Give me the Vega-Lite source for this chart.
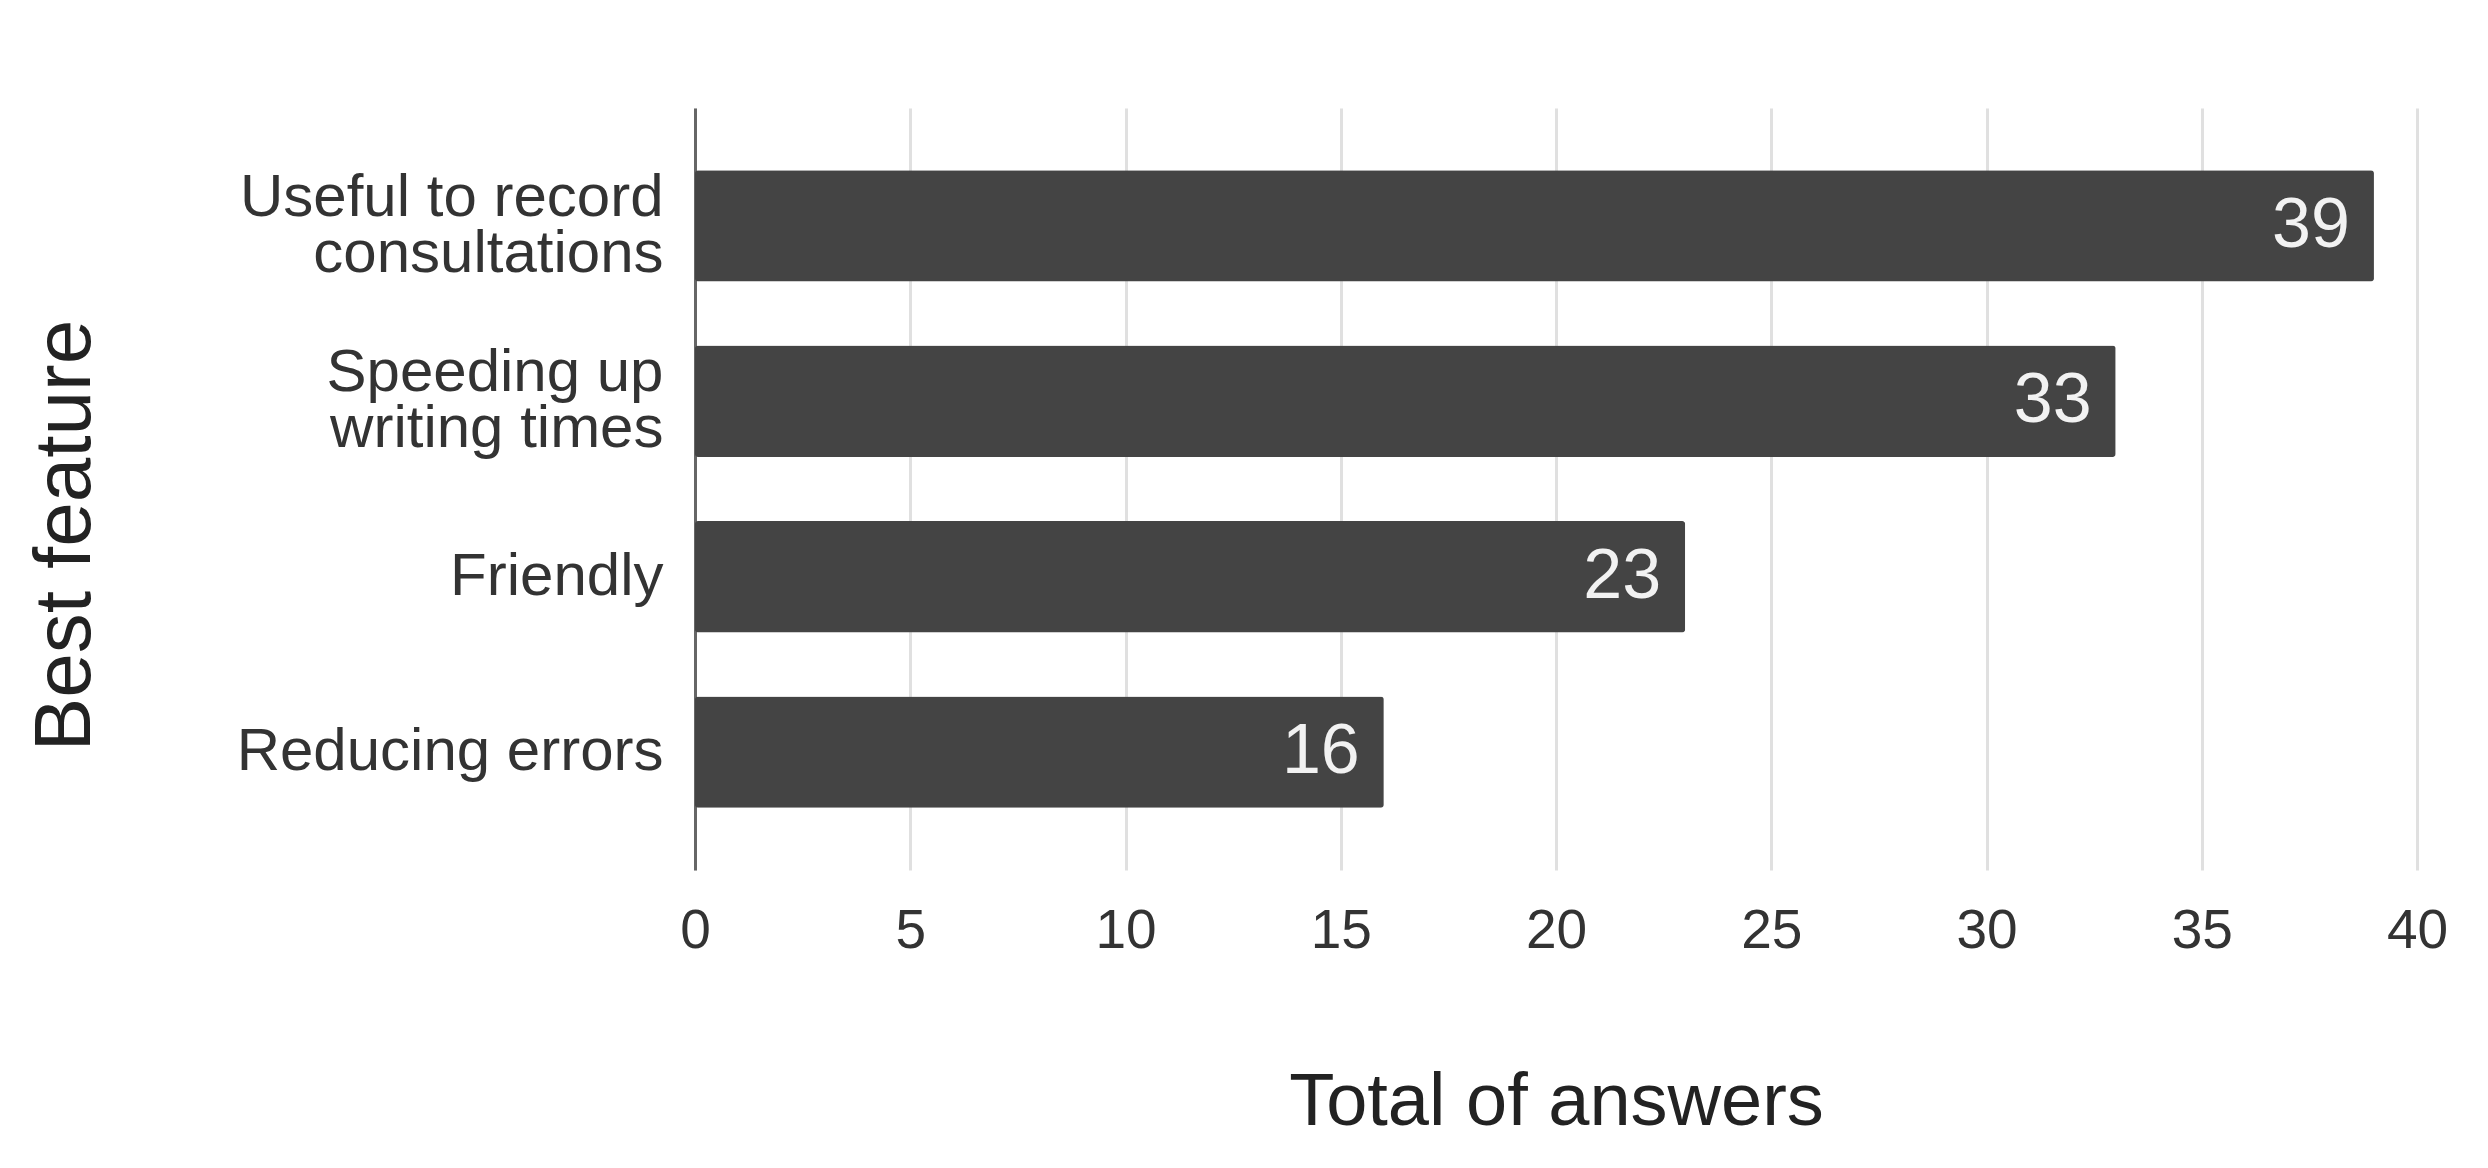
{
  "$schema": "https://vega.github.io/schema/vega-lite/v6.json",
  "width": 1722,
  "height": 762,
  "autosize": {"type": "none"},
  "padding": {"left": 695, "top": 108, "right": 71, "bottom": 298},
  "background": "white",
  "config": {"view": {"stroke": null}, "font": "Liberation Sans"},
  "data": {
    "values": [
      {"feature": "Useful to record|consultations", "answers": 39},
      {"feature": "Speeding up|writing times", "answers": 33},
      {"feature": "Friendly", "answers": 23},
      {"feature": "Reducing errors", "answers": 16}
    ]
  },
  "encoding": {
    "y": {
      "field": "feature",
      "type": "nominal",
      "sort": null,
      "scale": {"paddingInner": 0.366, "paddingOuter": 0.354},
      "axis": {
        "title": "Best feature",
        "titleFontSize": 80,
        "titleFont": "Liberation Sans",
        "titleFontWeight": "normal",
        "titleColor": "#222222",
        "titleAngle": -90,
        "titleX": -630,
        "titleY": 427,
        "titleAlign": "center",
        "titleBaseline": "middle",
        "labelFontSize": 60,
        "labelFont": "Liberation Sans",
        "labelColor": "#333333",
        "labelPadding": 32,
        "labelLineHeight": 56,
        "labelExpr": "split(datum.label, '|')",
        "labelOffset": {"condition": {"test": "indexof(datum.value, '|') >= 0", "value": -28}, "value": 0},
        "labelLimit": 0,
        "ticks": false,
        "domain": true,
        "domainColor": "#666666",
        "domainWidth": 3,
        "grid": false
      }
    },
    "x": {
      "field": "answers",
      "type": "quantitative",
      "scale": {"domain": [0, 40], "nice": false},
      "axis": {
        "title": "Total of answers",
        "titleFontSize": 74,
        "titleFont": "Liberation Sans",
        "titleFontWeight": "normal",
        "titleColor": "#222222",
        "titlePadding": 108,
        "labelFontSize": 55,
        "labelFont": "Liberation Sans",
        "labelColor": "#333333",
        "labelPadding": 34,
        "labelFlush": false,
        "values": [0, 5, 10, 15, 20, 25, 30, 35, 40],
        "ticks": false,
        "domain": false,
        "grid": true,
        "gridColor": "#e0e0e0",
        "gridWidth": 3
      }
    }
  },
  "layer": [
    {"mark": {"type": "bar", "color": "#444444", "cornerRadius": 3}},
    {
      "mark": {"type": "text", "align": "right", "baseline": "middle", "dx": -24, "color": "#f2f2f2", "fontSize": 70, "font": "Liberation Sans"},
      "encoding": {"text": {"field": "answers", "type": "quantitative"}}
    }
  ]
}
